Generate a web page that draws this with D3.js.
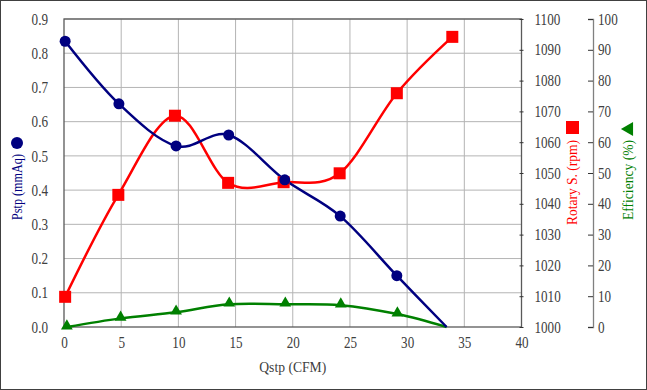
<!DOCTYPE html>
<html><head><meta charset="utf-8">
<script src="https://cdn.jsdelivr.net/npm/d3@7"></script>
<style>body{margin:0;background:#fff}svg{display:block}svg text{font-family:"Liberation Serif","Times New Roman",serif !important}</style>
</head><body>
<svg id="c" width="647" height="390"></svg>
<script>
// ---- data ----
const pstpQ   = [0.1, 4.8, 9.8, 14.4, 19.3, 24.15, 29.1, 33.45];
const pstp    = [0.835, 0.652, 0.529, 0.561, 0.430, 0.324, 0.150, 0.0];
const pstpMarked = 7;
const rpmQ    = [0.1, 4.75, 9.7, 14.35, 19.2, 24.1, 29.1, 33.95];
const rpm     = [1009.8, 1042.9, 1068.6, 1046.8, 1047.0, 1049.9, 1075.9, 1094.2];
const effQ    = [0.25, 4.95, 9.8, 14.45, 19.35, 24.2, 29.15, 33.45];
const eff     = [0.0, 2.8, 4.8, 7.4, 7.4, 7.1, 4.2, 0.0];
const effMarked = 7;
const xTicks   = [0,5,10,15,20,25,30,35,40];
const yTicks   = [0,0.1,0.2,0.3,0.4,0.5,0.6,0.7,0.8,0.9];
const rpmTicks = [1000,1010,1020,1030,1040,1050,1060,1070,1080,1090,1100];
const effTicks = [0,10,20,30,40,50,60,70,80,90,100];

const svg = d3.select("#c");
const L=64, R=521.5, T=19, B=327;
const x = d3.scaleLinear().domain([0,40]).range([L,R]);
const y = d3.scaleLinear().domain([0,0.9]).range([B,T]);
const yR = d3.scaleLinear().domain([1000,1100]).range([B,T]);
const yE = d3.scaleLinear().domain([0,100]).range([B,T]);
const navy="#000080", red="#ff0000", green="#008000", txt="#404040";
const FF = '"Liberation Serif", serif';

svg.append("rect").attr("x",0.5).attr("y",0.5).attr("width",646).attr("height",389)
  .attr("fill","#fff").attr("stroke","#404040").attr("stroke-width",1);

// grid
const g = svg.append("g");
g.selectAll(".gx").data(xTicks.slice(1,-1)).join("line")
  .attr("x1",d=>x(d)).attr("x2",d=>x(d)).attr("y1",T).attr("y2",B)
  .attr("stroke","#b4b4b4").attr("stroke-width",1);
g.selectAll(".gy").data(yTicks.slice(1)).join("line")
  .attr("x1",L).attr("x2",R).attr("y1",d=>y(d)).attr("y2",d=>y(d))
  .attr("stroke","#b4b4b4").attr("stroke-width",1);
svg.append("rect").attr("x",L).attr("y",T).attr("width",R-L).attr("height",B-T)
  .attr("fill","none").attr("stroke","#595959").attr("stroke-width",1.3);

function squeeze(sel, k){
  sel.each(function(){
    const w = this.getComputedTextLength();
    d3.select(this).attr("textLength", (w*k).toFixed(1)).attr("lengthAdjust","spacingAndGlyphs");
  });
}
function styleAxis(sel){
  sel.attr("font-family",FF).attr("font-size",16);
  const t = sel.selectAll("text").style("font-family",FF).style("font-size","16px").attr("fill",txt);
  squeeze(t, 0.82);
}

// left axis
const ax = d3.axisLeft(y).tickValues(yTicks).tickFormat(d3.format(".1f")).tickSize(0).tickPadding(16);
const gl = svg.append("g").attr("transform",`translate(${L},0)`).call(ax);
gl.select(".domain").remove();
styleAxis(gl);

// bottom axis
const bx = d3.axisBottom(x).tickValues(xTicks).tickFormat(d3.format("d")).tickSize(0).tickPadding(10);
const gb = svg.append("g").attr("transform",`translate(0,${B})`).call(bx);
gb.select(".domain").remove();
styleAxis(gb);

// rpm axis
const rx = d3.axisRight(yR).tickValues(rpmTicks).tickFormat(d3.format("d")).tickSize(4).tickPadding(11);
const gr = svg.append("g").attr("transform",`translate(${R-2},0)`).call(rx);
gr.select(".domain").remove();
gr.selectAll("line").attr("stroke","#333");
styleAxis(gr);

// efficiency axis
const EX = 593;
const ex = d3.axisLeft(yE).tickValues(effTicks).tickFormat(d3.format("d")).tickSize(5).tickPadding(-10);
const ge = svg.append("g").attr("transform",`translate(${EX},0)`).call(ex);
ge.select(".domain").attr("stroke","#808080").attr("stroke-width",1.3);
ge.selectAll("line").attr("stroke","#333");
styleAxis(ge);
ge.selectAll("text").attr("text-anchor","start");

// lines
const line = (xs, sy) => d3.line().curve(d3.curveCardinal.tension(0))
  .x((d,i)=>x(xs[i])).y(d=>sy(d));
svg.append("path").attr("d",line(effQ,yE)(eff)).attr("fill","none").attr("stroke",green).attr("stroke-width",2.5);
svg.append("path").attr("d",line(rpmQ,yR)(rpm)).attr("fill","none").attr("stroke",red).attr("stroke-width",2.5);
svg.append("path").attr("d",line(pstpQ,y)(pstp)).attr("fill","none").attr("stroke",navy).attr("stroke-width",2.5);

// markers
const tri = d3.symbol().type(d3.symbolTriangle).size(60);
svg.selectAll(".te").data(eff.slice(0,effMarked)).join("path")
  .attr("d",tri).attr("fill",green)
  .attr("transform",(d,i)=>`translate(${x(effQ[i])},${yE(d)-1})`);
svg.selectAll(".sq").data(rpm).join("rect")
  .attr("x",(d,i)=>x(rpmQ[i])-6).attr("y",d=>yR(d)-6).attr("width",12).attr("height",12).attr("fill",red);
svg.selectAll(".ci").data(pstp.slice(0,pstpMarked)).join("circle")
  .attr("cx",(d,i)=>x(pstpQ[i])).attr("cy",d=>y(d)).attr("r",5.5).attr("fill",navy);

// titles
svg.append("text").attr("x",(L+R)/2).attr("y",372).attr("text-anchor","middle")
  .attr("font-size",15).attr("fill",txt).attr("textLength",67).attr("lengthAdjust","spacingAndGlyphs")
  .text("Qstp (CFM)");
svg.append("text").attr("transform","translate(22,220) rotate(-90)")
  .attr("font-size",15).attr("fill",navy).attr("textLength",66).attr("lengthAdjust","spacingAndGlyphs")
  .text("Pstp (mmAq)");
svg.append("circle").attr("cx",17).attr("cy",143).attr("r",6).attr("fill",navy);

svg.append("text").attr("transform","translate(577,225) rotate(-90)")
  .attr("font-size",15).attr("fill",red).attr("textLength",85).attr("lengthAdjust","spacingAndGlyphs")
  .text("Rotary S. (rpm)");
svg.append("rect").attr("x",566).attr("y",121).attr("width",13).attr("height",13).attr("fill",red);

svg.append("text").attr("transform","translate(633,220) rotate(-90)")
  .attr("font-size",15).attr("fill",green).attr("textLength",80).attr("lengthAdjust","spacingAndGlyphs")
  .text("Efficiency (%)");
svg.append("path").attr("d",d3.symbol().type(d3.symbolTriangle).size(85)()).attr("fill",green)
  .attr("transform","translate(629,129) rotate(-90)");
</script>
</body></html>
